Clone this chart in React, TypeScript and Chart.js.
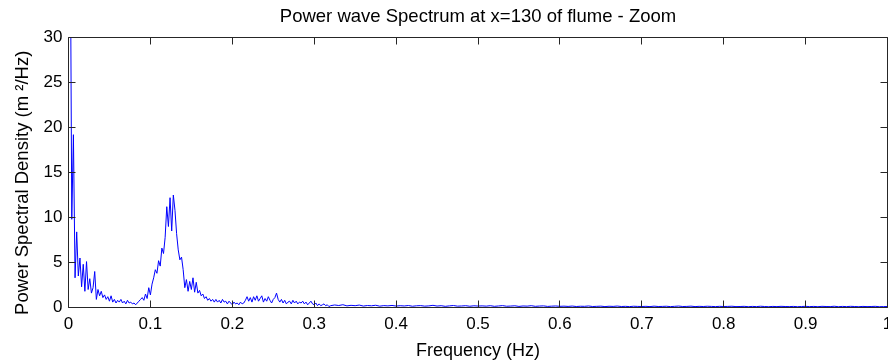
import React, { useEffect, useRef } from "react";
import { Chart, registerables } from "chart.js";

Chart.register(...registerables);

const TITLE = "Power wave Spectrum at x=130 of flume - Zoom";
const X_LABEL = "Frequency (Hz)";
const Y_LABEL = "Power Spectral Density (m \u00B2/Hz)    ";

const X_MIN = 0;
const X_MAX = 1;
const X_STEP = 0.1;
const Y_MIN = 0;
const Y_MAX = 30;
const Y_STEP = 5;

// Low-frequency part of the spectrum: frequency resolution 0.002 Hz, starting at 0.002 Hz
const LOW_F0 = 0.002;
const LOW_DF = 0.002;
const LOW_PSD = [
  45, 9.8, 19.2, 3.3, 8.4, 3.5, 5.5, 2.3, 4.8, 1.8,
  5.1, 2.0, 3.2, 1.6, 2.2, 4.0, 0.9, 2.0, 1.3, 1.8,
  1.1, 1.4, 0.9, 1.2, 0.7, 1.3, 0.6, 0.9, 0.5, 0.8,
  0.6, 0.9, 0.5, 0.7, 0.4, 0.8, 0.5, 0.6, 0.4, 0.5,
  0.3, 0.5, 0.7, 0.9, 1.1, 0.8, 1.5, 1.0, 2.2, 1.4,
  2.6, 3.3, 4.2, 3.8, 5.2, 4.6, 6.6, 6.0, 7.8, 11.2,
  9.0, 12.2, 8.5, 12.5, 10.8, 8.2, 6.4, 5.3, 5.6, 4.2,
  2.2, 3.1, 1.8, 2.9, 2.0, 3.3, 1.7, 2.8, 1.6, 1.9,
  1.3, 1.5, 1.0, 1.2, 0.8, 1.0, 0.7, 0.9, 0.6, 0.9,
  0.6, 0.8, 0.5, 0.9, 0.6, 0.7, 0.4, 0.7, 0.5, 0.3,
  0.6, 0.4, 0.5, 0.3, 0.6, 0.4, 0.5, 0.8, 1.2, 0.7,
  1.1, 0.6, 1.2, 0.8, 1.3, 0.7, 1.0, 1.3, 0.6, 1.0,
  0.7, 1.2, 0.8, 0.5, 0.9, 1.1, 1.6, 0.9, 0.6, 0.9,
  0.5, 0.8, 0.4, 0.6, 0.7, 0.4, 0.8, 0.5, 0.7, 0.4,
  0.6, 0.5, 0.7, 0.4, 0.6, 0.3, 0.5, 0.7, 0.4, 0.3,
  0.5, 0.2, 0.4, 0.2, 0.3, 0.4, 0.2, 0.3, 0.1, 0.2,
];

// High-frequency tail: resolution 0.005 Hz, starting at 0.325 Hz
const HIGH_F0 = 0.325;
const HIGH_DF = 0.005;
const HIGH_PSD = [
  0.28, 0.22, 0.31, 0.18, 0.24, 0.2, 0.27, 0.16, 0.22, 0.19, 0.25, 0.15, 0.21, 0.18, 0.23, 0.16,
  0.2, 0.17, 0.22, 0.14, 0.19, 0.21, 0.15, 0.18, 0.24, 0.16, 0.2, 0.13, 0.18, 0.22, 0.15, 0.17, 0.2, 0.14, 0.19, 0.16,
  0.18, 0.15, 0.2, 0.13, 0.17, 0.21, 0.14, 0.16, 0.19, 0.12, 0.17, 0.15, 0.2, 0.13, 0.16, 0.18, 0.12, 0.15, 0.17, 0.13,
  0.15, 0.12, 0.16, 0.11, 0.14, 0.13, 0.17, 0.11, 0.13, 0.15, 0.1, 0.14, 0.12, 0.16, 0.11, 0.13, 0.1, 0.14, 0.12, 0.11,
  0.13, 0.1, 0.15, 0.11, 0.12, 0.14, 0.1, 0.13, 0.16, 0.11, 0.12, 0.15, 0.1, 0.13, 0.11, 0.14, 0.12, 0.1, 0.13, 0.11,
  0.12, 0.14, 0.1, 0.11, 0.13, 0.09, 0.12, 0.1, 0.14, 0.11, 0.09, 0.12, 0.1, 0.13, 0.11, 0.1, 0.12, 0.09, 0.11, 0.13,
  0.1, 0.12, 0.09, 0.13, 0.11, 0.1, 0.14, 0.09, 0.12, 0.1, 0.13, 0.11, 0.09, 0.12, 0.1, 0.11, 0.13, 0.09, 0.1, 0.11,
];

const FONT = "'Liberation Sans', Arial, Helvetica, sans-serif";
const AXIS_COLOR = "#262626";
const LINE_COLOR = "#0000ff";

const boxPlugin = {
  id: "matlabBox",
  afterDatasetsDraw(chart: any) {
    const { ctx, chartArea, scales } = chart;
    const { left, right, top, bottom } = chartArea;
    const tl = 7;
    ctx.save();
    ctx.strokeStyle = AXIS_COLOR;
    ctx.lineWidth = 1;
    ctx.beginPath();
    ctx.rect(left, top, right - left, bottom - top);
    ctx.stroke();
    ctx.beginPath();
    scales.x.ticks.forEach((t: any) => {
      const px = Math.floor(scales.x.getPixelForValue(t.value)) + 0.5;
      ctx.moveTo(px, bottom);
      ctx.lineTo(px, bottom - tl);
      ctx.moveTo(px, top);
      ctx.lineTo(px, top + tl);
    });
    scales.y.ticks.forEach((t: any) => {
      const py = Math.floor(scales.y.getPixelForValue(t.value)) + 0.5;
      ctx.moveTo(left, py);
      ctx.lineTo(left + tl, py);
      ctx.moveTo(right, py);
      ctx.lineTo(right - tl, py);
    });
    ctx.stroke();
    ctx.restore();
  },
};

export default function App() {
  const canvasRef = useRef<HTMLCanvasElement | null>(null);

  useEffect(() => {
    const canvas = canvasRef.current;
    if (!canvas) return;
    const points: { x: number; y: number }[] = [];
    LOW_PSD.forEach((v, i) => points.push({ x: LOW_F0 + i * LOW_DF, y: v }));
    HIGH_PSD.forEach((v, i) => points.push({ x: HIGH_F0 + i * HIGH_DF, y: v }));

    const chart = new Chart(canvas, {
      type: "line",
      data: {
        datasets: [
          {
            data: points,
            xAxisID: "x",
            yAxisID: "y",
            borderColor: LINE_COLOR,
            backgroundColor: LINE_COLOR,
            borderWidth: 1,
            pointRadius: 0,
            tension: 0,
            fill: false,
          },
        ],
      },
      options: {
        animation: false,
        responsive: false,
        devicePixelRatio: 1,
        layout: { padding: { left: 0, right: 0.5, top: 0, bottom: 0 } },
        plugins: {
          legend: { display: false },
          tooltip: { enabled: false },
          title: { display: false },
        },
        scales: {
          top: {
            type: "linear",
            position: "top",
            min: X_MIN,
            max: X_MAX,
            grid: { display: false, drawTicks: false },
            border: { display: false },
            ticks: { display: false },
            title: {
              display: true,
              text: TITLE,
              color: "#000",
              font: { family: FONT, size: 18.5, lineHeight: 1.2 },
              padding: { top: 5.5, bottom: 0 },
            },
            afterFit: (scale: any) => {
              scale.height = 37.5;
              scale.paddingLeft = 0;
              scale.paddingRight = 0;
            },
          },
          x: {
            type: "linear",
            position: "bottom",
            min: X_MIN,
            max: X_MAX,
            grid: { display: false, drawTicks: false },
            border: { display: false },
            ticks: {
              stepSize: X_STEP,
              color: "#000",
              padding: 6.3,
              maxRotation: 0,
              autoSkip: false,
              font: { family: FONT, size: 17 },
              callback: (v: any) => String(Math.round(Number(v) * 10) / 10),
            },
            title: {
              display: true,
              text: X_LABEL,
              color: "#000",
              font: { family: FONT, size: 18, lineHeight: 1.2 },
              padding: { top: 0, bottom: 1.2 },
            },
            afterFit: (scale: any) => {
              scale.height = 55.5;
              scale.paddingLeft = 0;
              scale.paddingRight = 0;
            },
          },
          y: {
            type: "linear",
            min: Y_MIN,
            max: Y_MAX,
            grid: { display: false, drawTicks: false },
            border: { display: false },
            ticks: {
              stepSize: Y_STEP,
              color: "#000",
              padding: 6,
              font: { family: FONT, size: 17 },
            },
            title: {
              display: true,
              text: Y_LABEL,
              color: "#000",
              font: { family: FONT, size: 18.5, lineHeight: 1.2 },
              padding: { top: 12, bottom: 0 },
            },
            afterFit: (scale: any) => {
              scale.width = 68.5;
              scale.paddingTop = 0;
              scale.paddingBottom = 0;
            },
          },
        },
      },
      plugins: [boxPlugin],
    });
    return () => chart.destroy();
  }, []);

  return (
    <div style={{ position: "absolute", left: 0, top: 0, width: 888, height: 363, background: "#fff" }}>
      <canvas ref={canvasRef} width={888} height={363} style={{ display: "block" }} />
    </div>
  );
}
